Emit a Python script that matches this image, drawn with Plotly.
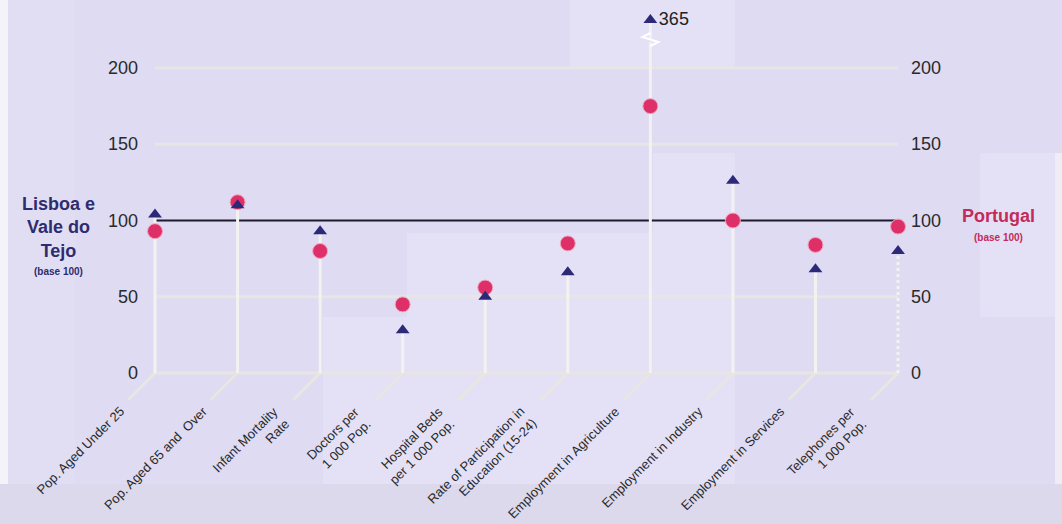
import plotly.graph_objects as go

# --- data -------------------------------------------------------------
categories = [
    "Pop. Aged Under 25",
    "Pop. Aged 65 and  Over",
    "Infant Mortality<br>Rate",
    "Doctors per<br>1 000 Pop.",
    "Hospital Beds<br>per 1 000 Pop.",
    "Rate of Participation in<br>Education (15-24)",
    "Employment in Agriculture",
    "Employment in Industry",
    "Employment in Services",
    "Telephones per<br>1 000 Pop.",
]
lisboa = [104, 110, 93, 28, 50, 66, 365, 126, 68, 80]     # triangles
portugal = [93, 112, 80, 45, 56, 85, 175, 100, 84, 96]    # circles
y_ticks = [0, 50, 100, 150, 200]

# --- geometry ---------------------------------------------------------
W, H = 1062, 524
PX_X = 82.56          # pixels per category step
PX_Y = 1.525          # pixels per index unit
X0_PX = 155           # pixel x of first category
Y0_PX = 373           # pixel y of value 0

x_range = [-X0_PX / PX_X, (W - X0_PX) / PX_X]
main_bottom_px, main_top_px = 420, 42
y_range = [-(main_bottom_px - Y0_PX) / PX_Y, (Y0_PX - main_top_px) / PX_Y]
y_dom = [1 - main_bottom_px / H, 1 - main_top_px / H]
# upper strip above the axis break
y2_dom = [1 - 38 / H, 1.0]
y2_range = [356, 375]

NAVY = "#2c2a78"
CRIMSON = "#de2f68"
GRID = "#e8e6e2"
STEM = "#f3f2f0"
BG = "#dedbf3"
LIGHT = "#e4e1f6"
FONT = "Liberation Sans, Arial, sans-serif"

n = len(categories)
xs = list(range(n))

fig = go.Figure()

# stems from the floor up to the Lisboa value
for i, v in enumerate(lisboa):
    dash = "dot" if i == n - 1 else "solid"
    fig.add_trace(go.Scatter(x=[i, i], y=[0, v], mode="lines",
                             line=dict(color=STEM, width=3, dash=dash),
                             hoverinfo="skip", showlegend=False))
    if v > y_range[1]:
        fig.add_trace(go.Scatter(x=[i, i], y=[0, v], mode="lines", yaxis="y2",
                                 line=dict(color=STEM, width=3),
                                 hoverinfo="skip", showlegend=False))

# Portugal circles
fig.add_trace(go.Scatter(x=xs, y=portugal, mode="markers", name="Portugal",
                         marker=dict(symbol="circle", size=15, color=CRIMSON,
                                     line=dict(color="#f0a8c0", width=1)),
                         showlegend=False))

# Lisboa triangles (values beyond the break go on the upper strip)
main_x = [i for i, v in enumerate(lisboa) if v <= y_range[1]]
main_y = [lisboa[i] for i in main_x]
top_x = [i for i, v in enumerate(lisboa) if v > y_range[1]]
top_y = [lisboa[i] for i in top_x]
fig.add_trace(go.Scatter(x=main_x, y=main_y, mode="markers", name="Lisboa e Vale do Tejo",
                         marker=dict(symbol="triangle-up", size=12, color=NAVY),
                         showlegend=False))
fig.add_trace(go.Scatter(x=top_x, y=top_y, mode="markers+text", yaxis="y2",
                         text=[f"{v:g}" for v in top_y], textposition="middle right",
                         textfont=dict(family=FONT, size=18, color="#222"),
                         marker=dict(symbol="triangle-up", size=12, color=NAVY),
                         cliponaxis=False, showlegend=False))

shapes = []
# background panels
panels = [
    (0, 0, 8, H, "#f4f3fa"),
    (8, 0, 75, H, "#e1def4"),
    (0, 484, W, H, "#dcd9ec"),
    (570, 0, 735, 68, LIGHT),
    (653, 153, 735, 484, LIGHT),
    (407, 233, 653, 484, LIGHT),
    (323, 317, 407, 484, LIGHT),
    (980, 153, 1055, 317, LIGHT),
    (1055, 153, W, 484, "#eeedf6"),
]
for x0, y0, x1, y1, c in panels:
    shapes.append(dict(type="rect", xref="paper", yref="paper", layer="below",
                       x0=x0 / W, x1=x1 / W, y0=1 - y1 / H, y1=1 - y0 / H,
                       fillcolor=c, line=dict(width=0)))

# horizontal grid lines
for t in y_ticks:
    if t == 100:
        continue
    shapes.append(dict(type="line", xref="x", yref="y", layer="below",
                       x0=0, x1=n - 1, y0=t, y1=t, line=dict(color=GRID, width=3)))
shapes.append(dict(type="line", xref="x", yref="y", layer="below",
                   x0=0, x1=n - 1, y0=100, y1=100, line=dict(color="#1d1b2c", width=2)))

# floor diagonals below each category
dx, dy = 27 / PX_X, 27 / PX_Y
for i in xs:
    shapes.append(dict(type="line", xref="x", yref="y", layer="below",
                       x0=i, y0=0, x1=i - dx, y1=-dy, line=dict(color=GRID, width=3)))

# axis-break mark on the stems that leave the main scale
for i in top_x:
    ox = 8 / PX_X
    pts = [(i, 33), (i - ox, 37), (i + ox, 42), (i, 46)]
    path = "M " + " L ".join(f"{px},{1 - py / H}" for px, py in pts)
    shapes.append(dict(type="path", xref="x", yref="paper", path=path,
                       line=dict(color="white", width=2)))

annotations = []
# tick labels on both sides
for t in y_ticks:
    annotations.append(dict(x=140 / W, xref="paper", y=t, yref="y", text=str(t),
                            showarrow=False, xanchor="right", yanchor="middle",
                            font=dict(family=FONT, size=18, color="#2a2a2a")))
    annotations.append(dict(x=909 / W, xref="paper", y=t, yref="y", text=str(t),
                            showarrow=False, xanchor="left", yanchor="middle",
                            font=dict(family=FONT, size=18, color="#2a2a2a")))

# rotated category labels
for i, c in enumerate(categories):
    annotations.append(dict(x=i, xref="x", y=0, yref="y", text=c, showarrow=False,
                            textangle=-45, xanchor="right", yanchor="top", align="right",
                            xshift=-25, yshift=-28,
                            font=dict(family=FONT, size=13, color="#2a2a2a")))

# series titles
annotations += [
    dict(x=58 / W, y=1 - 227 / H, xref="paper", yref="paper", showarrow=False,
         xanchor="center", yanchor="middle",
         text="<b>Lisboa e<br>Vale do<br>Tejo</b>", align="center",
         font=dict(family=FONT, size=18, color="#2e2c6e")),
    dict(x=58 / W, y=1 - 271 / H, xref="paper", yref="paper", showarrow=False,
         xanchor="center", yanchor="middle",
         text="<b>(base 100)</b>", font=dict(family=FONT, size=10, color="#2e2c6e")),
    dict(x=998 / W, y=1 - 216 / H, xref="paper", yref="paper", showarrow=False,
         xanchor="center", yanchor="middle",
         text="<b>Portugal</b>", font=dict(family=FONT, size=18, color="#c42a5a")),
    dict(x=998 / W, y=1 - 237 / H, xref="paper", yref="paper", showarrow=False,
         xanchor="center", yanchor="middle",
         text="<b>(base 100)</b>", font=dict(family=FONT, size=10, color="#c42a5a")),
]

fig.update_layout(
    width=W, height=H,
    margin=dict(l=0, r=0, t=0, b=0),
    paper_bgcolor=BG, plot_bgcolor="rgba(0,0,0,0)",
    xaxis=dict(range=x_range, domain=[0, 1], visible=False, fixedrange=True),
    yaxis=dict(range=y_range, domain=y_dom, visible=False, fixedrange=True),
    yaxis2=dict(range=y2_range, domain=y2_dom, anchor="x", visible=False, fixedrange=True),
    shapes=shapes,
    annotations=annotations,
    showlegend=False,
)

fig.write_html("out.html")
